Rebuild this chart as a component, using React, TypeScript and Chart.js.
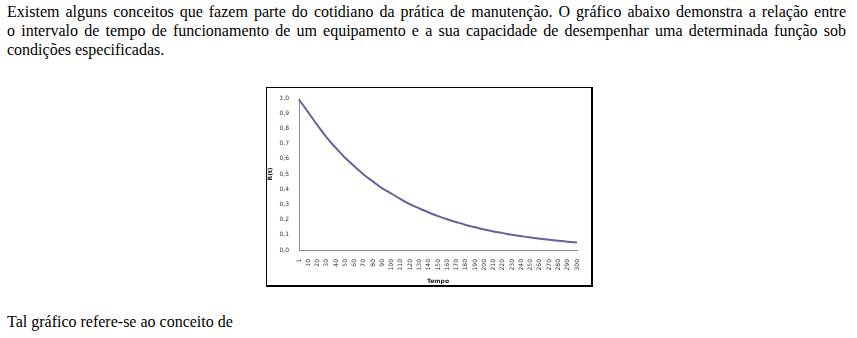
import React, { useEffect, useRef } from "react";
import { Chart, registerables } from "chart.js";

Chart.register(...registerables);

const tempoLabels = ["1","10","20","30","40","50","60","70","80","90","100","110","120","130","140","150","160","170","180","190","200","210","220","230","240","250","260","270","280","290","300"];
const rValues = [0.99,0.905,0.82,0.74,0.67,0.605,0.55,0.495,0.45,0.405,0.37,0.333,0.30,0.273,0.247,0.223,0.202,0.183,0.165,0.15,0.135,0.122,0.111,0.10,0.091,0.082,0.074,0.067,0.061,0.055,0.05];
const yTitle = "R(t)";
const xTitle = "Tempo";

const line1 = "Existem alguns conceitos que fazem parte do cotidiano da prática de manutenção. O gráfico abaixo demonstra a relação entre";
const line2 = "o intervalo de tempo de funcionamento de um equipamento e a sua capacidade de desempenhar uma determinada função sob";
const line3 = "condições especificadas.";
const footer = "Tal gráfico refere-se ao conceito de";

export default function App() {
  const ref = useRef<HTMLCanvasElement | null>(null);
  useEffect(() => {
    if (!ref.current) return;
    const tickFont = { family: "DejaVu Sans", size: 6 };
    const chart = new Chart(ref.current, {
      type: "line",
      data: {
        labels: tempoLabels,
        datasets: [
          {
            data: rValues,
            borderColor: "#63639c",
            borderWidth: 2,
            pointRadius: 0,
            cubicInterpolationMode: "monotone",
            fill: false,
          },
        ],
      },
      options: {
        animation: false,
        responsive: false,
        maintainAspectRatio: false,
        layout: { padding: { top: 10, right: 14, bottom: 0, left: 0 } },
        plugins: { legend: { display: false }, tooltip: { enabled: false } },
        scales: {
          x: {
            offset: false,
            grid: { display: false },
            border: { display: true, color: "#8c8c8c", width: 1 },
            ticks: {
              autoSkip: false,
              minRotation: 90,
              maxRotation: 90,
              font: tickFont,
              color: "#333",
              padding: 1,
            },
            title: {
              display: true,
              text: xTitle,
              font: { family: "DejaVu Sans", size: 6, weight: "bold" },
              color: "#222",
              padding: { top: 6, bottom: 0 },
            },
            afterFit: (s: any) => {
              s.height = 35;
            },
          },
          y: {
            min: 0,
            max: 1,
            grid: { display: false },
            border: { display: true, color: "#8c8c8c", width: 1 },
            ticks: {
              stepSize: 0.1,
              font: tickFont,
              color: "#333",
              padding: 2,
              callback: (v: any) => Number(v).toFixed(1).replace(".", ","),
            },
            title: {
              display: true,
              text: yTitle,
              font: { family: "DejaVu Sans", size: 6, weight: "bold" },
              color: "#222",
              padding: 0,
            },
            afterFit: (s: any) => {
              s.width = 32;
            },
          },
        },
      },
    });
    return () => chart.destroy();
  }, []);

  const textStyle: React.CSSProperties = {
    position: "absolute",
    left: 7,
    width: 839,
    fontFamily: "'Liberation Serif', 'Times New Roman', serif",
    fontSize: 16,
    lineHeight: "19px",
    color: "#000",
    whiteSpace: "nowrap",
  };
  const just: React.CSSProperties = {
    textAlign: "justify",
    textAlignLast: "justify" as any,
    whiteSpace: "normal",
  };

  return (
    <div style={{ position: "fixed", left: 0, top: 0, width: 857, height: 338, background: "#fff", overflow: "hidden" }}>
      <div style={{ ...textStyle, top: 2, ...just }}>{line1}</div>
      <div style={{ ...textStyle, top: 21, ...just }}>{line2}</div>
      <div style={{ ...textStyle, top: 40 }}>{line3}</div>
      <div
        style={{
          position: "absolute",
          left: 266,
          top: 87,
          width: 324,
          height: 197,
          borderLeft: "1px solid #000",
          borderTop: "1px solid #000",
          borderRight: "2px solid #000",
          borderBottom: "2px solid #000",
        }}
      >
        <canvas ref={ref} width={324} height={197} style={{ display: "block", width: 324, height: 197 }} />
      </div>
      <div style={{ ...textStyle, top: 312 }}>{footer}</div>
    </div>
  );
}
